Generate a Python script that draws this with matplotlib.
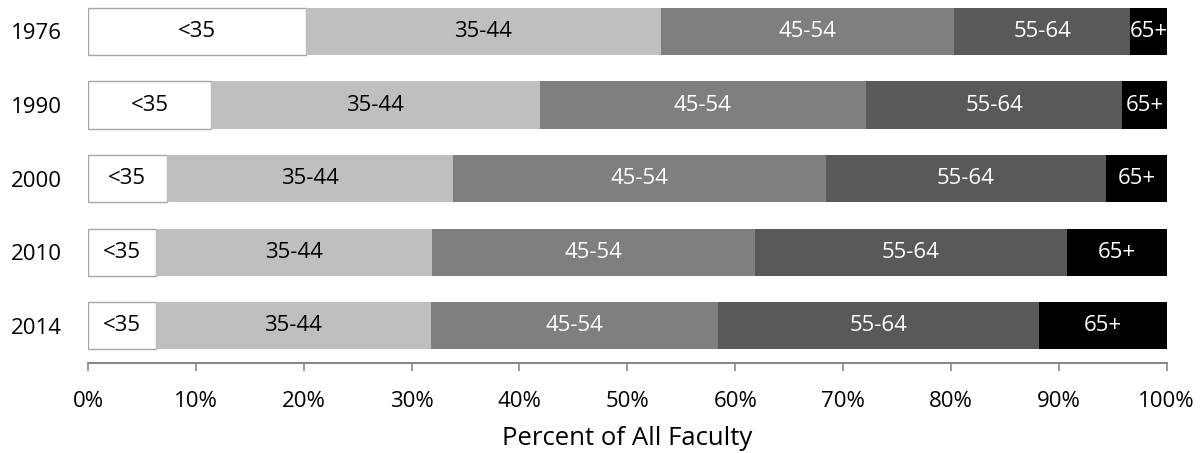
import matplotlib
matplotlib.use("Agg")
import matplotlib.pyplot as plt
import numpy as np

years = ["1976", "1990", "2000", "2010", "2014"]
groups = ["<35", "35-44", "45-54", "55-64", "65+"]
under35 = [20.2, 11.4, 7.3, 6.3, 6.3]
age35_44 = [32.9, 30.5, 26.5, 25.6, 25.5]
age45_54 = [27.2, 30.2, 34.6, 29.9, 26.6]
age55_64 = [16.3, 23.8, 26.0, 29.0, 29.8]
age65plus = [3.4, 4.1, 5.6, 9.2, 11.8]

colors = ["#ffffff", "#bfbfbf", "#7f7f7f", "#595959", "#000000"]
text_colors = ["#000000", "#000000", "#ffffff", "#ffffff", "#ffffff"]

plt.rcParams['font.family'] = ['Open Sans', 'DejaVu Sans']

fig = plt.figure(figsize=(12.03, 4.53), dpi=100)
W, H = 1203, 453
x0, x1 = 88, 1166.7
ybot = 362.7
ax = fig.add_axes([x0 / W, (H - ybot) / H, (x1 - x0) / W, ybot / H])

series = [under35, age35_44, age45_54, age55_64, age65plus]
ypos = np.arange(len(years))
left = np.zeros(len(years))
for i, vals in enumerate(series):
    vals = np.array(vals, dtype=float)
    if i == 0:
        ax.barh(ypos, vals, left=left, height=0.64, color=colors[i],
                edgecolor="#a6a6a6", linewidth=1.0, zorder=2)
    else:
        ax.barh(ypos, vals, left=left, height=0.64, color=colors[i],
                edgecolor="none", zorder=2)
    for y, l, v in zip(ypos, left, vals):
        ax.text(l + v / 2, y, groups[i], ha="center", va="center",
                fontsize=16, color=text_colors[i], zorder=3)
    left = left + vals

ax.set_xlim(0, 100)
ax.set_ylim(4.5, -0.427)
ax.set_yticks(ypos)
ax.set_yticklabels(years, fontsize=16)
ax.tick_params(axis="y", length=0, pad=18.5)
ax.set_xticks(np.arange(0, 101, 10))
ax.set_xticklabels([f"{v}%" for v in range(0, 101, 10)], fontsize=16)
ax.tick_params(axis="x", length=6, width=1.2, color="#888888", pad=14.5)
for s in ["top", "right", "left"]:
    ax.spines[s].set_visible(False)
ax.spines["bottom"].set_color("#888888")
ax.spines["bottom"].set_linewidth(1.5)
ax.set_xlabel("Percent of All Faculty", fontsize=18.5, labelpad=10)

fig.savefig("out.png", dpi=100)
